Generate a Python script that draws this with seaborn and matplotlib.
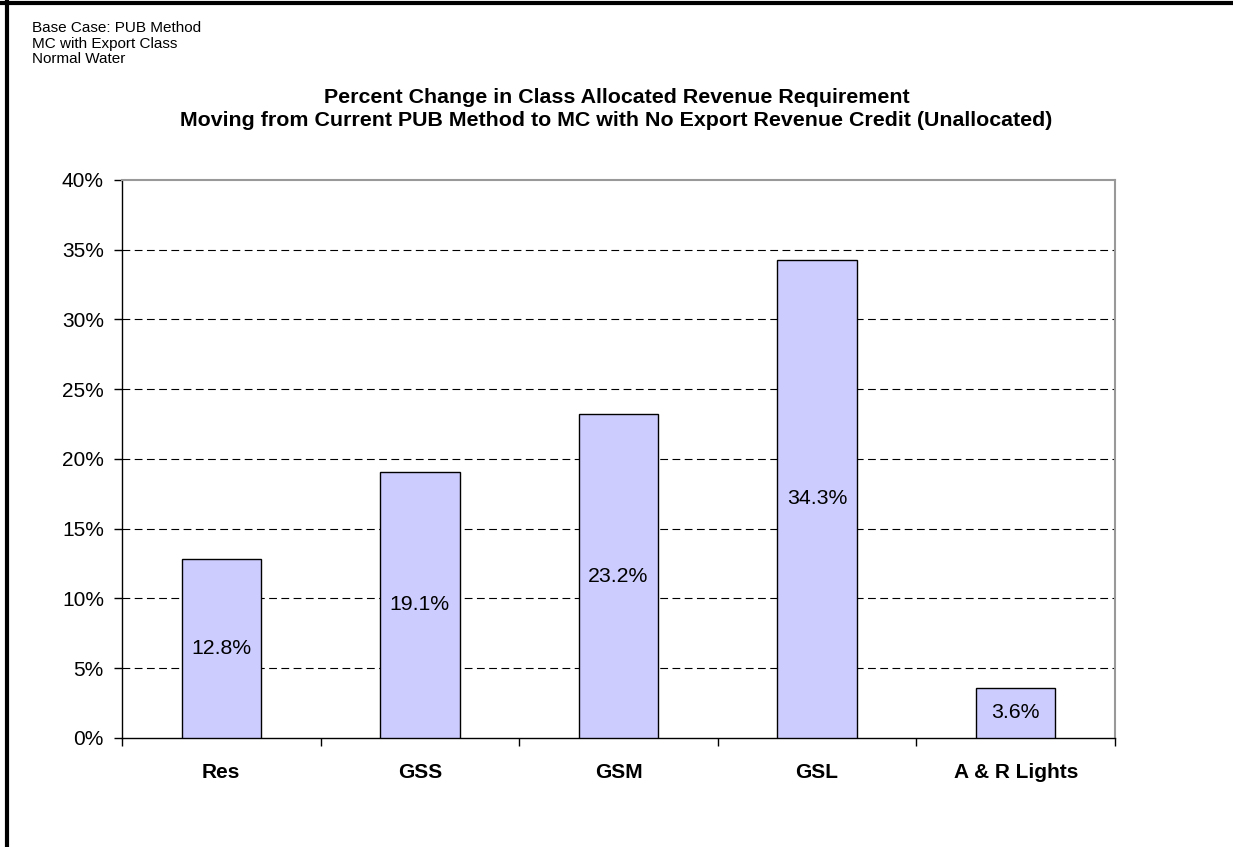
import numpy as np
import pandas as pd
import matplotlib.pyplot as plt
import seaborn as sns
from matplotlib.ticker import PercentFormatter, FixedLocator

sns.set_theme(style="white")
plt.rcParams['font.family'] = ['Liberation Sans', 'DejaVu Sans']
plt.rcParams['text.color'] = 'black'
plt.rcParams['xtick.color'] = 'black'
plt.rcParams['ytick.color'] = 'black'

# data
classes = ['Res', 'GSS', 'GSM', 'GSL', 'A & R Lights']
pct_change = [12.8, 19.1, 23.2, 34.3, 3.6]
note_lines = ['Base Case: PUB Method', 'MC with Export Class', 'Normal Water']
title = ('Percent Change in Class Allocated Revenue Requirement\n'
         'Moving from Current PUB Method to MC with No Export Revenue Credit (Unallocated)')

df = pd.DataFrame({'Class': classes, 'Change': pct_change})

fig = plt.figure(figsize=(12.33, 8.47), dpi=100)
ax = fig.add_axes([0.0989, 0.1287, 0.8054, 0.6588])

sns.barplot(data=df, x='Class', y='Change', color='#ccccff', edgecolor='black',
            linewidth=1.0, width=0.40, saturation=1, ax=ax, zorder=3)

ax.set_ylim(0, 40)
ax.set_xlim(-0.5, len(classes) - 0.5)
ax.yaxis.set_major_locator(FixedLocator(np.arange(0, 41, 5)))
ax.yaxis.set_major_formatter(PercentFormatter(decimals=0))
# dashed gridlines (Excel style)
for y in np.arange(5, 40, 5):
    ax.axhline(y, color='black', linestyle=(0, (7, 4)), linewidth=0.8, zorder=1)

ax.set_xlabel('')
ax.set_ylabel('')
ax.tick_params(axis='y', labelsize=15, length=6, width=1, pad=7, direction='out', left=True)
ax.tick_params(axis='x', which='major', length=0, labelsize=15, pad=18)
ax.set_xticks(ax.get_xticks())
ax.set_xticklabels(classes, fontweight='bold')
ax.xaxis.set_minor_locator(FixedLocator(np.arange(-0.5, len(classes), 1)))
ax.tick_params(axis='x', which='minor', length=6, width=1, direction='out', bottom=True)

for side in ['left', 'bottom']:
    ax.spines[side].set_color('black')
    ax.spines[side].set_linewidth(1.0)
for side in ['top', 'right']:
    ax.spines[side].set_color('#999999')
    ax.spines[side].set_linewidth(1.5)

for patch, v in zip(ax.patches, pct_change):
    ax.text(patch.get_x() + patch.get_width() / 2, v / 2, f'{v:.1f}%',
            ha='center', va='center', fontsize=15.3, zorder=4)

fig.text(0.5, 0.871, title, ha='center', va='center', fontsize=15.4,
         fontweight='bold', linespacing=1.25)
fig.text(0.026, 0.975, '\n'.join(note_lines), ha='left', va='top', fontsize=11,
         linespacing=1.15)

# outer frame, left and top only
fig.add_artist(plt.Line2D([0.0056, 0.0056], [0, 1], color='black', linewidth=3,
                          transform=fig.transFigure))
fig.add_artist(plt.Line2D([0, 1], [0.997, 0.997], color='black', linewidth=3,
                          transform=fig.transFigure))

fig.savefig('out.png', dpi=100)
